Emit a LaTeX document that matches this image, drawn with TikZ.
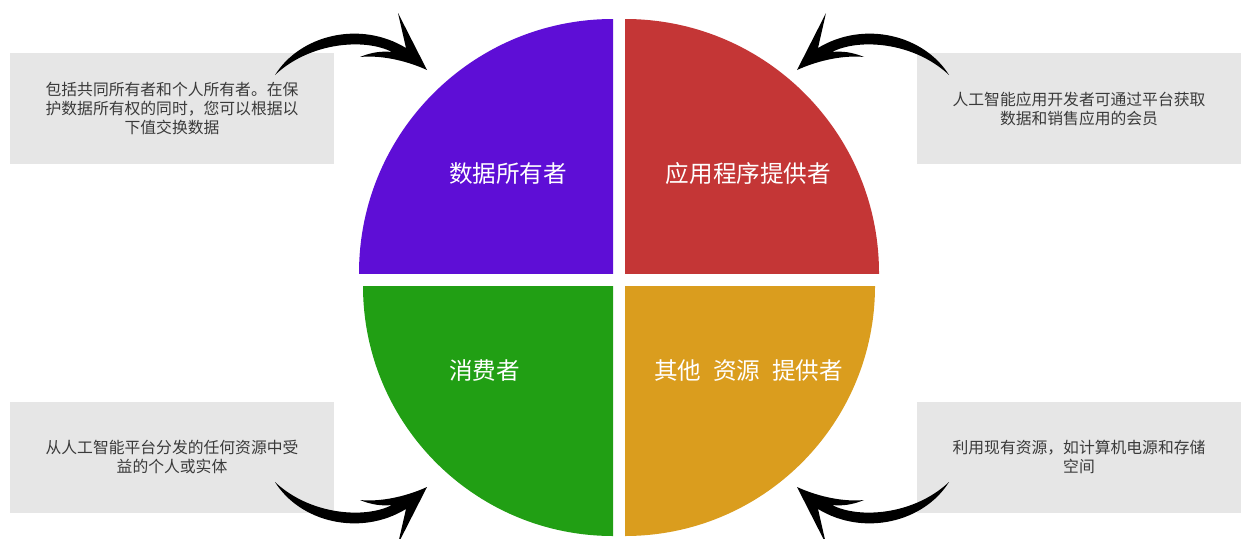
\documentclass[tikz,border=0pt]{standalone}
\usepackage{fontspec}
\setmainfont{Noto Sans CJK SC}

\definecolor{qpurple}{HTML}{5E0ED6}
\definecolor{qred}{HTML}{C43636}
\definecolor{qgreen}{HTML}{219F14}
\definecolor{qorange}{HTML}{DA9D1E}
\definecolor{boxgray}{HTML}{E6E6E6}
\definecolor{boxtext}{HTML}{3A3A3A}

% one bent arrow, drawn for the top left corner
\newcommand{\bentarrow}{%
  \fill (275,75) .. controls (300,35) and (360,20) .. (406,48)
    -- (398,13) -- (427,70)
    .. controls (405,60) and (380,55) .. (360,57)
    .. controls (372,52) and (382,51) .. (392,52)
    .. controls (365,38) and (310,42) .. (275,75) -- cycle;}

\begin{document}
\begin{tikzpicture}[x=1pt,y=-1pt,
	infobox/.style={fill=boxgray, minimum width=324pt, minimum height=111pt,
		text=boxtext, align=center, font=\fontsize{15.8}{19}\selectfont},
	quadlabel/.style={text=white, font=\fontsize{23.6}{28}\selectfont}]
		\useasboundingbox (0,0) rectangle (1241,538);
		% the four quarters of the disc
		\begin{scope}
			\clip (613,273) rectangle (300,0);
			\fill[qpurple] (613,273) circle[radius=254];
		\end{scope}
		\begin{scope}
			\clip (625,273) rectangle (940,0);
			\fill[qred] (625,273) circle[radius=254];
		\end{scope}
		\begin{scope}
			\clip (613,286) rectangle (300,560);
			\fill[qgreen] (613,286) circle[radius=250];
		\end{scope}
		\begin{scope}
			\clip (625,286) rectangle (940,560);
			\fill[qorange] (625,286) circle[radius=250];
		\end{scope}
		\node[quadlabel] (owner) at (508,174) {数据所有者};
		\node[quadlabel] (provider) at (748.5,174) {应用程序提供者};
		\node[quadlabel] (consumer) at (484.5,371) {消费者};
		\node[quadlabel] (resource) at (748.5,371) {其他\hspace{0.5em}资源\hspace{0.5em}提供者};
		% grey notes
		\node[infobox] (ownerbox) at (172,108.5) {包括共同所有者和个人所有者。在保\\护数据所有权的同时，您可以根据以\\下值交换数据};
		\node[infobox] (providerbox) at (1079,108.5) {人工智能应用开发者可通过平台获取\\数据和销售应用的会员};
		\node[infobox] (consumerbox) at (172,457) {从人工智能平台分发的任何资源中受\\益的个人或实体};
		\node[infobox] (resourcebox) at (1079,457) {利用现有资源，如计算机电源和存储\\空间};
		% arrows
		\bentarrow
		\begin{scope}[cm={-1,0,0,1,(1224,0)}]
			\bentarrow
		\end{scope}
		\begin{scope}[cm={1,0,0,-1,(0,557)}]
			\bentarrow
		\end{scope}
		\begin{scope}[cm={-1,0,0,-1,(1224,557)}]
			\bentarrow
		\end{scope}
\end{tikzpicture}
\end{document}
